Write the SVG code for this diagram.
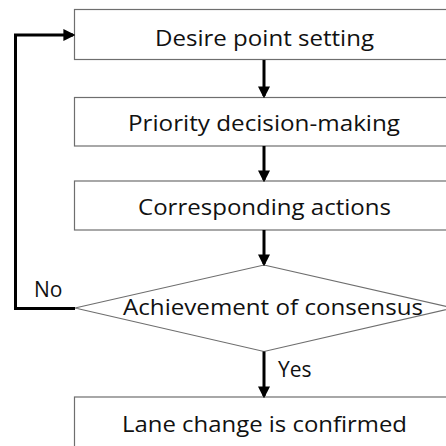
<svg xmlns="http://www.w3.org/2000/svg" width="446" height="446" viewBox="0 0 446 446">
  <style>
    .box { fill: #ffffff; stroke: #6e6e6e; stroke-width: 1.2; }
    .label { font-family: "Open Sans", "Liberation Sans", sans-serif; font-size: 21px; fill: #111111; }
    .mid { text-anchor: middle; }
    .flow { fill: none; stroke: #000000; stroke-width: 3; }
  </style>
  <defs>
    <marker id="arrow" markerWidth="4" markerHeight="4" refX="3.2" refY="2" orient="auto" markerUnits="strokeWidth">
      <path d="M0,0 L4,2 L0,4 Z" fill="#000000"/>
    </marker>
  </defs>
  <rect width="446" height="446" fill="#ffffff"/>

  <g id="desire-point">
    <rect class="box" x="74.5" y="9.5" width="390" height="50"/>
    <text class="label mid" x="264.5" y="45.5" textLength="219" lengthAdjust="spacingAndGlyphs">Desire point setting</text>
  </g>

  <g id="priority">
    <rect class="box" x="74.5" y="97.5" width="390" height="48.5"/>
    <text class="label mid" x="264" y="130.5" textLength="272" lengthAdjust="spacingAndGlyphs">Priority decision-making</text>
  </g>

  <g id="actions">
    <rect class="box" x="74.5" y="181" width="390" height="49"/>
    <text class="label mid" x="264.5" y="215" textLength="253" lengthAdjust="spacingAndGlyphs">Corresponding actions</text>
  </g>

  <g id="consensus">
    <polygon class="box" points="264,265 453,308 264,351.5 75,308"/>
    <text class="label" x="123" y="315" textLength="300" lengthAdjust="spacingAndGlyphs">Achievement of consensus</text>
  </g>

  <g id="confirmed">
    <rect class="box" x="74.5" y="397" width="390" height="60"/>
    <text class="label mid" x="264.5" y="431.5" textLength="285" lengthAdjust="spacingAndGlyphs">Lane change is confirmed</text>
  </g>

  <g id="connectors">
    <line class="flow" x1="264" y1="60" x2="264" y2="96" marker-end="url(#arrow)"/>
    <line class="flow" x1="264" y1="146" x2="264" y2="180" marker-end="url(#arrow)"/>
    <line class="flow" x1="264" y1="230" x2="264" y2="264" marker-end="url(#arrow)"/>
    <line class="flow" x1="264" y1="351.5" x2="264" y2="396" marker-end="url(#arrow)"/>
    <polyline class="flow" points="75,308.5 15.5,308.5 15.5,35 73,35" marker-end="url(#arrow)"/>
    <text class="label" x="34" y="296.5">No</text>
    <text class="label" x="278" y="377">Yes</text>
  </g>
</svg>
